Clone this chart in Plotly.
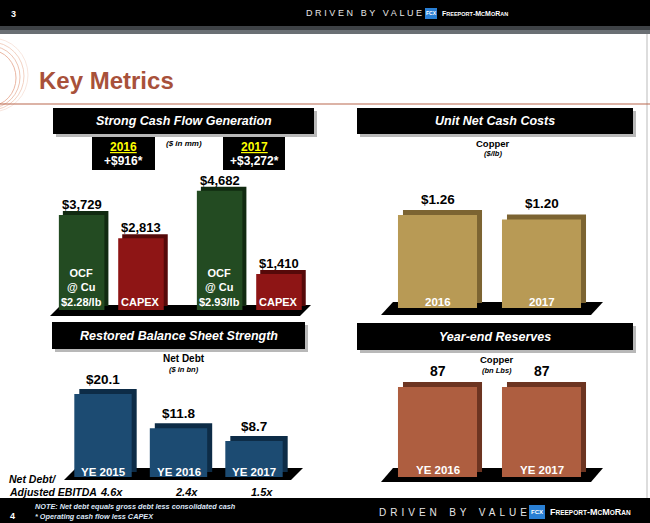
import plotly.graph_objects as go

W, H = 650, 523

# ---------------- data ----------------
cash_years = ["2016", "2017"]
ocf = [3729, 4682]
capex = [2813, 1410]
ocf_labels = ["OCF<br>@ Cu<br>$2.28/lb", "OCF<br>@ Cu<br>$2.93/lb"]
capex_labels = ["CAPEX", "CAPEX"]
fcf = ["+$916*", "+$3,272*"]

unit_years = ["2016", "2017"]
unit_costs = [1.26, 1.20]

debt_years = ["YE 2015", "YE 2016", "YE 2017"]
net_debt = [20.1, 11.8, 8.7]
debt_ratio = ["4.6x", "2.4x", "1.5x"]

res_years = ["YE 2016", "YE 2017"]
reserves = [87, 87]

# ---------------- helpers ----------------
SANS = "Liberation Sans, Arial, sans-serif"


def X(px):
    return px / W


def Y(py):
    return 1 - py / H


shapes = []
annotations = []


def rect(x0, y0, x1, y1, color, layer="below", opacity=1, line=None):
    shapes.append(dict(type="rect", xref="paper", yref="paper",
                       x0=X(x0), x1=X(x1), y0=Y(y1), y1=Y(y0),
                       fillcolor=color, opacity=opacity, layer=layer,
                       line=line or dict(width=0)))


def poly(pts, color, layer="below"):
    d = "M " + " L ".join(f"{X(a):.5f},{Y(b):.5f}" for a, b in pts) + " Z"
    shapes.append(dict(type="path", xref="paper", yref="paper", path=d,
                       fillcolor=color, layer=layer, line=dict(width=0)))


def text(t, x, y, size=10, color="black", xanchor="center", yanchor="middle", **kw):
    annotations.append(dict(text=t, x=X(x), y=Y(y), xref="paper", yref="paper",
                            showarrow=False, xanchor=xanchor, yanchor=yanchor,
                            font=dict(size=size, color=color, family=SANS), **kw))


# ---------------- slide chrome ----------------
rect(0, 0, W, 26, "black")
rect(0, 26, W, 30, "#3e4246")
rect(0, 30, W, 34, "#6a6f74")
rect(0, 498, W, H, "black")
shapes.append(dict(type="line", xref="paper", yref="paper", x0=X(647), x1=X(647),
                   y0=Y(34), y1=Y(498), line=dict(color="#bbbbbb", width=1)))

# decorative swirl at left
for i, c in enumerate(["#f6e0d6", "#efc6b4", "#e9b5a0", "#e4a38a"]):
    shapes.append(dict(type="circle", xref="paper", yref="paper",
                       x0=X(-45 + i * 3), x1=X(28 - i * 4), y0=Y(112 - i * 2), y1=Y(38 + i * 4),
                       line=dict(color=c, width=0.8), fillcolor="rgba(0,0,0,0)", layer="below"))

LOGO = ("<b>F<span style='font-size:{s}px'>REEPORT</span>-M<span style='font-size:{s}px'>C</span>"
        "M<span style='font-size:{s}px'>O</span>R<span style='font-size:{s}px'>AN</span></b>")

text("<b>3</b>", 9, 14, 9, "white", xanchor="left")
text("<span style='letter-spacing:2.6px'>DRIVEN</span>  <span style='letter-spacing:2.6px'>BY</span>  "
     "<span style='letter-spacing:2.6px'>VALUE</span>", 304, 13, 9, "#e6e6e6", xanchor="left")
rect(425, 8, 437, 19, "#2a7fd4", layer="above")
text("<b>FCX</b>", 431, 13.5, 5, "white")
text(LOGO.format(s=5.5), 440, 13.5, 7, "white", xanchor="left")

text("<b>Key Metrics</b>", 37, 81, 24, "#a8513a", xanchor="left")
shapes.append(dict(type="line", xref="paper", yref="paper", x0=0, x1=1,
                   y0=Y(104), y1=Y(104), line=dict(color="#b9694f", width=1.2)))

# bottom bar texts
text("<b>4</b>", 8, 516, 9, "white", xanchor="left")
text("<b><i>NOTE: Net debt equals gross debt less consolidated cash</i></b>", 33, 506, 7.3,
     "#dce6f7", xanchor="left")
text("<b><i>* Operating cash flow less CAPEX</i></b>", 33, 516, 7.3, "#dce6f7", xanchor="left")
text("<span style='letter-spacing:4px'>DRIVEN</span>   <span style='letter-spacing:4px'>BY</span>   "
     "<span style='letter-spacing:4px'>VALUE</span>", 377, 512, 10, "#e6e6e6", xanchor="left")
rect(529, 505, 545, 519, "#2a7fd4", layer="above")
text("<b>FCX</b>", 537, 512, 6, "white")
text(LOGO.format(s=6.5), 548, 512, 9, "white", xanchor="left")


def header(x0, y0, x1, y1, title):
    rect(x0 + 3, y0 + 3, x1 + 3, y1 + 3, "#9a9a9a", opacity=0.7)
    rect(x0, y0, x1, y1, "black")
    text(f"<b><i>{title}</i></b>", (x0 + x1) / 2, (y0 + y1) / 2 + 0.5, 12.5, "white")


header(53, 108, 314, 134, "Strong Cash Flow Generation")
header(357, 108, 633, 134, "Unit Net Cash Costs")
header(52, 322, 305, 349, "Restored Balance Sheet Strength")
header(357, 323, 633, 350, "Year-end Reserves")

# FCF boxes
for (x0, x1), yr, v in zip([(92, 155), (223, 285)], cash_years, fcf):
    rect(x0, 137, x1, 170, "black")
    text(f"<b><span style='text-decoration:underline'>{yr}</span></b>",
         (x0 + x1) / 2, 147, 12, "#ffff00")
    text(f"<b>{v}</b>", (x0 + x1) / 2, 161, 12, "white")
text("<b><i>($ in mm)</i></b>", 184, 143, 8, "black")

text("<b>Copper</b>", 493, 143, 9.5, "black")
text("<b><i>($/lb)</i></b>", 493, 153, 7.5, "black")
text("<b>Net Debt</b>", 184, 358, 10, "black")
text("<b><i>($ in bn)</i></b>", 184, 369, 7.5, "black")
text("<b>Copper</b>", 497, 359, 9.5, "black")
text("<b><i>(bn Lbs)</i></b>", 497, 370, 7.5, "black")

text("<b><i>Net Debt/</i></b>", 7, 479, 10.5, "black", xanchor="left")
text("<b><i>Adjusted EBITDA</i></b>", 7, 492, 10.5, "black", xanchor="left")

# floors
poly([(50, 316), (61, 305), (311, 305), (300, 316)], "black")
poly([(381, 315), (393, 302), (603, 302), (591, 315)], "black")
poly([(64, 480), (76, 468), (303, 468), (291, 480)], "black")
poly([(381, 482), (393, 468), (603, 468), (591, 482)], "black")

# ---------------- axes / panels ----------------
layout_axes = {}


def panel(i, cats, xdom, ybot, ytop, ymax):
    sx = "" if i == 1 else str(i)
    layout_axes[f"xaxis{sx}"] = dict(domain=[X(xdom[0]), X(xdom[1])], type="category",
                                     categoryorder="array", categoryarray=cats,
                                     range=[-0.5, len(cats) - 0.5], visible=False,
                                     fixedrange=True, anchor=f"y{sx}")
    layout_axes[f"yaxis{sx}"] = dict(domain=[Y(ybot), Y(ytop)], range=[0, ymax],
                                     visible=False, fixedrange=True, anchor=f"x{sx}")
    return f"x{sx}", f"y{sx}"


k1 = 95 / 3729
k2 = 93 / 1.26
k3 = 83 / 20.1
k4 = 90 / 87
p1 = panel(1, cash_years, (43, 319), 310, 170, 140 / k1)
p2 = panel(2, unit_years, (385.5, 593.5), 308, 170, 138 / k2)
p3 = panel(3, debt_years, (65.25, 291.75), 477, 370, 107 / k3)
p4 = panel(4, res_years, (385.5, 593.5), 477, 365, 112 / k4)

traces = []


def bars3d(ax, cats, vals, front, side, offset, width, unit_px, k, depth=5):
    dx = depth / unit_px
    dy = depth / k
    n = len(cats)
    traces.append(go.Bar(x=cats, y=vals, base=[dy] * n, offset=offset + dx, width=width,
                         marker=dict(color=side, line=dict(width=0)), xaxis=ax[0], yaxis=ax[1],
                         hoverinfo="skip", showlegend=False))
    traces.append(go.Bar(x=cats, y=vals, offset=offset, width=width,
                         marker=dict(color=front, line=dict(width=0)), xaxis=ax[0], yaxis=ax[1],
                         hoverinfo="skip", showlegend=False))


def ann(ax, x, y, t, size, color, yshift, yanchor="bottom"):
    annotations.append(dict(text=t, x=x, y=y, xref=ax[0], yref=ax[1], showarrow=False,
                            xanchor="center", yanchor=yanchor, yshift=yshift,
                            font=dict(size=size, color=color, family=SANS)))


# panel 1
W1 = 0.33
OFF_OCF, OFF_CAP = -0.385, 0.045
bars3d(p1, cash_years, ocf, "#234b22", "#112a11", OFF_OCF, W1, 138, k1, 4)
bars3d(p1, cash_years, capex, "#8e1515", "#560909", OFF_CAP, W1, 138, k1, 4)
for i in range(len(cash_years)):
    ann(p1, i + OFF_OCF + W1 / 2, ocf[i], f"<b>${ocf[i]:,}</b>", 13, "black", 1)
    ann(p1, i + OFF_CAP + W1 / 2, capex[i], f"<b>${capex[i]:,}</b>", 13, "black", 1)
    ann(p1, i + OFF_OCF + W1 / 2, 0, f"<b>{ocf_labels[i]}</b>", 11, "white", 0)
    ann(p1, i + OFF_CAP + W1 / 2, 0, f"<b>{capex_labels[i]}</b>", 11, "white", 0)

# panel 2
bars3d(p2, unit_years, unit_costs, "#b89a55", "#7c6432", -0.38, 0.76, 104, k2)
for i, v in enumerate(unit_costs):
    ann(p2, i, v, f"<b>${v:.2f}</b>", 13.5, "black", 6)
    ann(p2, i, 0, f"<b>{unit_years[i]}</b>", 11.5, "white", -2)

# panel 3
bars3d(p3, debt_years, net_debt, "#1c4b72", "#0d2c47", -0.38, 0.76, 75.5, k3)
for i, v in enumerate(net_debt):
    ann(p3, i, v, f"<b>${v:.1f}</b>", 13.5, "black", 5)
    ann(p3, i, 0, f"<b>{debt_years[i]}</b>", 11.5, "white", -3)
    annotations.append(dict(text=f"<b><i>{debt_ratio[i]}</i></b>", x=i + 0.11, y=Y(492),
                            xref=p3[0], yref="paper", showarrow=False, xanchor="center",
                            yanchor="middle", font=dict(size=11, color="black", family=SANS)))

# panel 4
bars3d(p4, res_years, reserves, "#ae5e40", "#6c3421", -0.38, 0.76, 104, k4)
for i, v in enumerate(reserves):
    ann(p4, i, v, f"<b>{v}</b>", 14, "black", 6)
    ann(p4, i, 0, f"<b>{res_years[i]}</b>", 11.5, "white", -1)

fig = go.Figure(traces)
fig.update_layout(width=W, height=H, margin=dict(l=0, r=0, t=0, b=0),
                  paper_bgcolor="white", plot_bgcolor="rgba(0,0,0,0)",
                  barmode="overlay", showlegend=False, shapes=shapes,
                  annotations=annotations, font=dict(family=SANS), **layout_axes)
fig.write_html("out.html", config={"displayModeBar": False})

# remove default page margin so the figure fills the window
with open("out.html", encoding="utf-8") as f:
    html = f.read()
html = html.replace("<head>", "<head><style>html,body{margin:0;padding:0;overflow:hidden;}</style>", 1)
with open("out.html", "w", encoding="utf-8") as f:
    f.write(html)
